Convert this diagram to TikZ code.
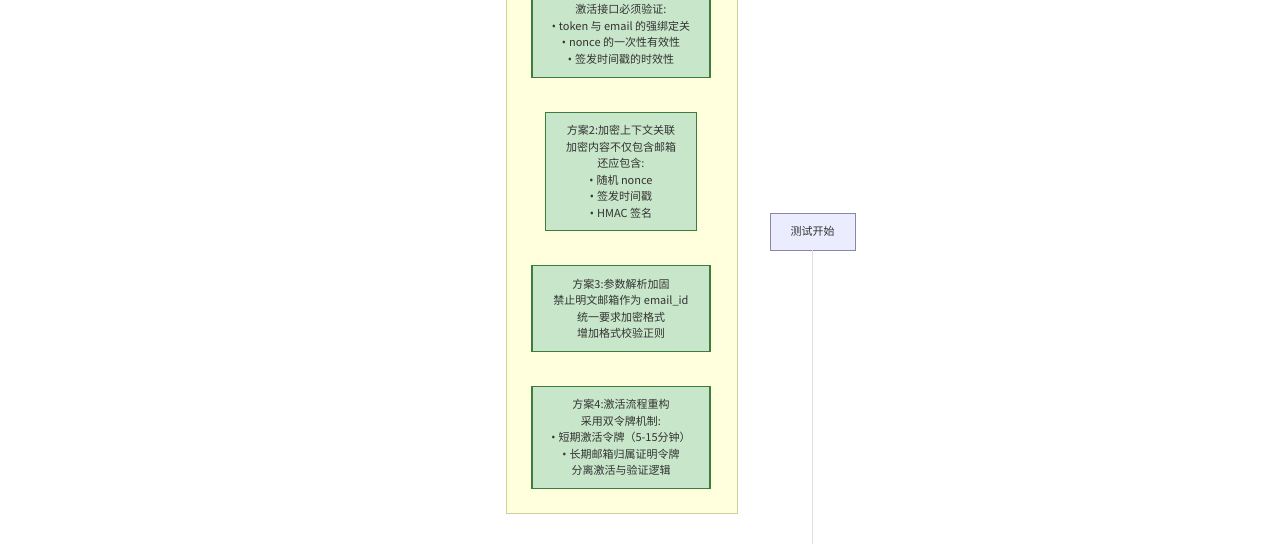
\documentclass[tikz,border=0pt]{standalone}
\usepackage{fontspec}
\setmainfont{Noto Sans CJK SC}
\newfontfamily\bulletfont{Noto Sans}
\usetikzlibrary{positioning}
\definecolor{clusterfill}{HTML}{FFFFDE}
\definecolor{clusterline}{HTML}{CFCF9A}
\definecolor{fixfill}{HTML}{C8E6C9}
\definecolor{fixline}{HTML}{3C7D3E}
\definecolor{actorfill}{HTML}{ECECFF}
\definecolor{actorline}{HTML}{8A86A8}
\definecolor{textgrey}{HTML}{333333}
\newcommand{\bul}{{\bulletfont •}\hspace{3pt}}
\tikzset{
    fixbox/.style={draw=fixline, fill=fixfill, line width=1.1pt, align=center,
        text=textgrey, font=\fontsize{11}{16.5}\selectfont, inner sep=0pt},
    actorbox/.style={draw=actorline, fill=actorfill, line width=0.7pt,
        text=textgrey, font=\fontsize{11}{14}\selectfont, inner sep=0pt,
        minimum width=85pt, minimum height=37pt}
}

\begin{document}
\begin{tikzpicture}[x=1pt,y=-1pt]
    \useasboundingbox (0,0) rectangle (1280,544);
    \clip (0,0) rectangle (1280,544);
    % Cluster of fixes (top runs off the page)
    \draw[clusterline, fill=clusterfill, line width=0.8pt] (506,-20) rectangle (737,513);

    % Fix boxes, stacked
    \node[fixbox, minimum width=178pt, minimum height=86pt, anchor=south] (fix1) at (621,78)
        {激活接口必须验证:\\\bul token 与 email 的强绑定关\\\bul nonce 的一次性有效性\\\bul 签发时间戳的时效性};
    \node[fixbox, minimum width=151pt, minimum height=118pt, below=34pt of fix1] (fix2)
        {方案2:加密上下文关联\\加密内容不仅包含邮箱\\还应包含:\\\bul 随机 nonce\\\bul 签发时间戳\\\bul HMAC 签名};
    \node[fixbox, minimum width=178pt, minimum height=86pt, below=34pt of fix2] (fix3)
        {方案3:参数解析加固\\禁止明文邮箱作为 email\_id\\统一要求加密格式\\增加格式校验正则};
    \node[fixbox, minimum width=178pt, minimum height=102pt, below=34pt of fix3] (fix4)
        {方案4:激活流程重构\\采用双令牌机制:\\\bul 短期激活令牌（5-15分钟）\\\bul 长期邮箱归属证明令牌\\分离激活与验证逻辑};

    % Participant and its lifeline
    \node[actorbox] (start) at (812.5,231.5) {测试开始};
    \coordinate (lifeend) at (812.5,544);
    \draw[gray!25, line width=0.8pt] (start.south) -- (lifeend);
\end{tikzpicture}
\end{document}
